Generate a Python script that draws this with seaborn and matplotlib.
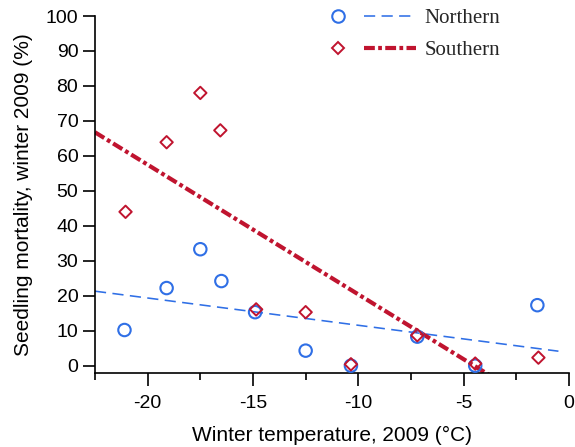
import numpy as np
import pandas as pd
import matplotlib
matplotlib.use("Agg")
import matplotlib.pyplot as plt
import seaborn as sns
from matplotlib.lines import Line2D
from matplotlib.legend_handler import HandlerTuple
from matplotlib.ticker import MultipleLocator

# ---- data ----
regions = ["Northern", "Southern"]
temp_north = [-21.1, -19.1, -17.5, -16.5, -14.9, -12.5, -10.35, -7.2, -4.45, -1.5]
mort_north = [10.2, 22.2, 33.3, 24.2, 15.3, 4.3, 0.0, 8.3, 0.0, 17.3]
temp_south = [-21.05, -19.1, -17.5, -16.55, -14.85, -12.5, -10.35, -7.2, -4.45, -1.45]
mort_south = [44.0, 63.9, 78.0, 67.3, 16.1, 15.3, 0.4, 8.7, 0.6, 2.3]
xticks = [-20, -15, -10, -5, 0]
yticks = [0, 10, 20, 30, 40, 50, 60, 70, 80, 90, 100]

BLUE = "#2F6FE6"
RED = "#C0142F"

north = pd.DataFrame({"temp": temp_north, "mort": mort_north})
south = pd.DataFrame({"temp": temp_south, "mort": mort_south})

sns.set_theme(style="ticks")
plt.rcParams['font.family'] = ['Liberation Sans', 'DejaVu Sans']
plt.rcParams['axes.unicode_minus'] = False

fig = plt.figure(figsize=(5.75, 4.47), dpi=100)
ax = fig.add_axes([0.1652, 0.1655, 0.8243, 0.7987])

north_ls = (0, (7.0, 4.0))
south_ls = (0, (2.6, 0.8, 0.9, 0.8))

# regression lines
ax.set_xlim(-22.5, -0.5)
sns.regplot(data=north, x="temp", y="mort", scatter=False, ci=None, truncate=False,
            color=BLUE, line_kws=dict(lw=1.15, ls=north_ls, zorder=2), ax=ax)
ax.set_xlim(-22.5, 0)
sns.regplot(data=south, x="temp", y="mort", scatter=False, ci=None, truncate=False,
            color=RED, line_kws=dict(lw=3.0, ls=south_ls, dash_capstyle="butt", zorder=2), ax=ax)

# points
sns.scatterplot(data=north, x="temp", y="mort", marker="o", s=80, color=BLUE,
                facecolor="none", edgecolor=BLUE, linewidth=1.5, ax=ax, zorder=3)
sns.scatterplot(data=south, x="temp", y="mort", marker="D", s=40, color=RED,
                facecolor="none", edgecolor=RED, linewidth=1.4, ax=ax, zorder=4)

ax.set_xlim(-22.5, 0)
ax.set_ylim(-2.1, 100)
ax.set_xticks(xticks)
ax.set_yticks(yticks)
ax.xaxis.set_minor_locator(MultipleLocator(2.5))
ax.tick_params(axis="both", which="major", length=9, width=1.2, color="black",
               labelsize=14, labelcolor="black", direction="out", pad=3)
ax.tick_params(axis="x", which="major", pad=7)
ax.tick_params(axis="x", which="minor", length=5, width=1.2, color="black", direction="out")
for side in ["top", "right"]:
    ax.spines[side].set_visible(False)
for side in ["left", "bottom"]:
    ax.spines[side].set_linewidth(1.2)
    ax.spines[side].set_color("black")

ax.set_xlabel("Winter temperature, 2009 (°C)", fontsize=15, color="black", labelpad=10)
ax.set_ylabel("Seedling mortality, winter 2009 (%)", fontsize=15, color="black", labelpad=9)

h_n = (Line2D([], [], marker="o", ls="none", mfc="none", mec=BLUE, mew=1.5, ms=9),
       Line2D([], [], color=BLUE, lw=1.15, ls=north_ls))
h_s = (Line2D([], [], marker="D", ls="none", mfc="none", mec=RED, mew=1.4, ms=6.3),
       Line2D([], [], color=RED, lw=3.0, ls=south_ls, dash_capstyle="butt"))
ax.legend([h_n, h_s], regions, handler_map={tuple: HandlerTuple(ndivide=None, pad=0)},
          loc="upper left", bbox_to_anchor=(0.5426, 0.981), bbox_transform=fig.transFigure,
          frameon=False, prop={"family": ["Liberation Serif"], "size": 15},
          handlelength=5.0, handletextpad=0.4, labelspacing=0.6, borderpad=0, borderaxespad=0)

fig.savefig("out.png", dpi=100)
